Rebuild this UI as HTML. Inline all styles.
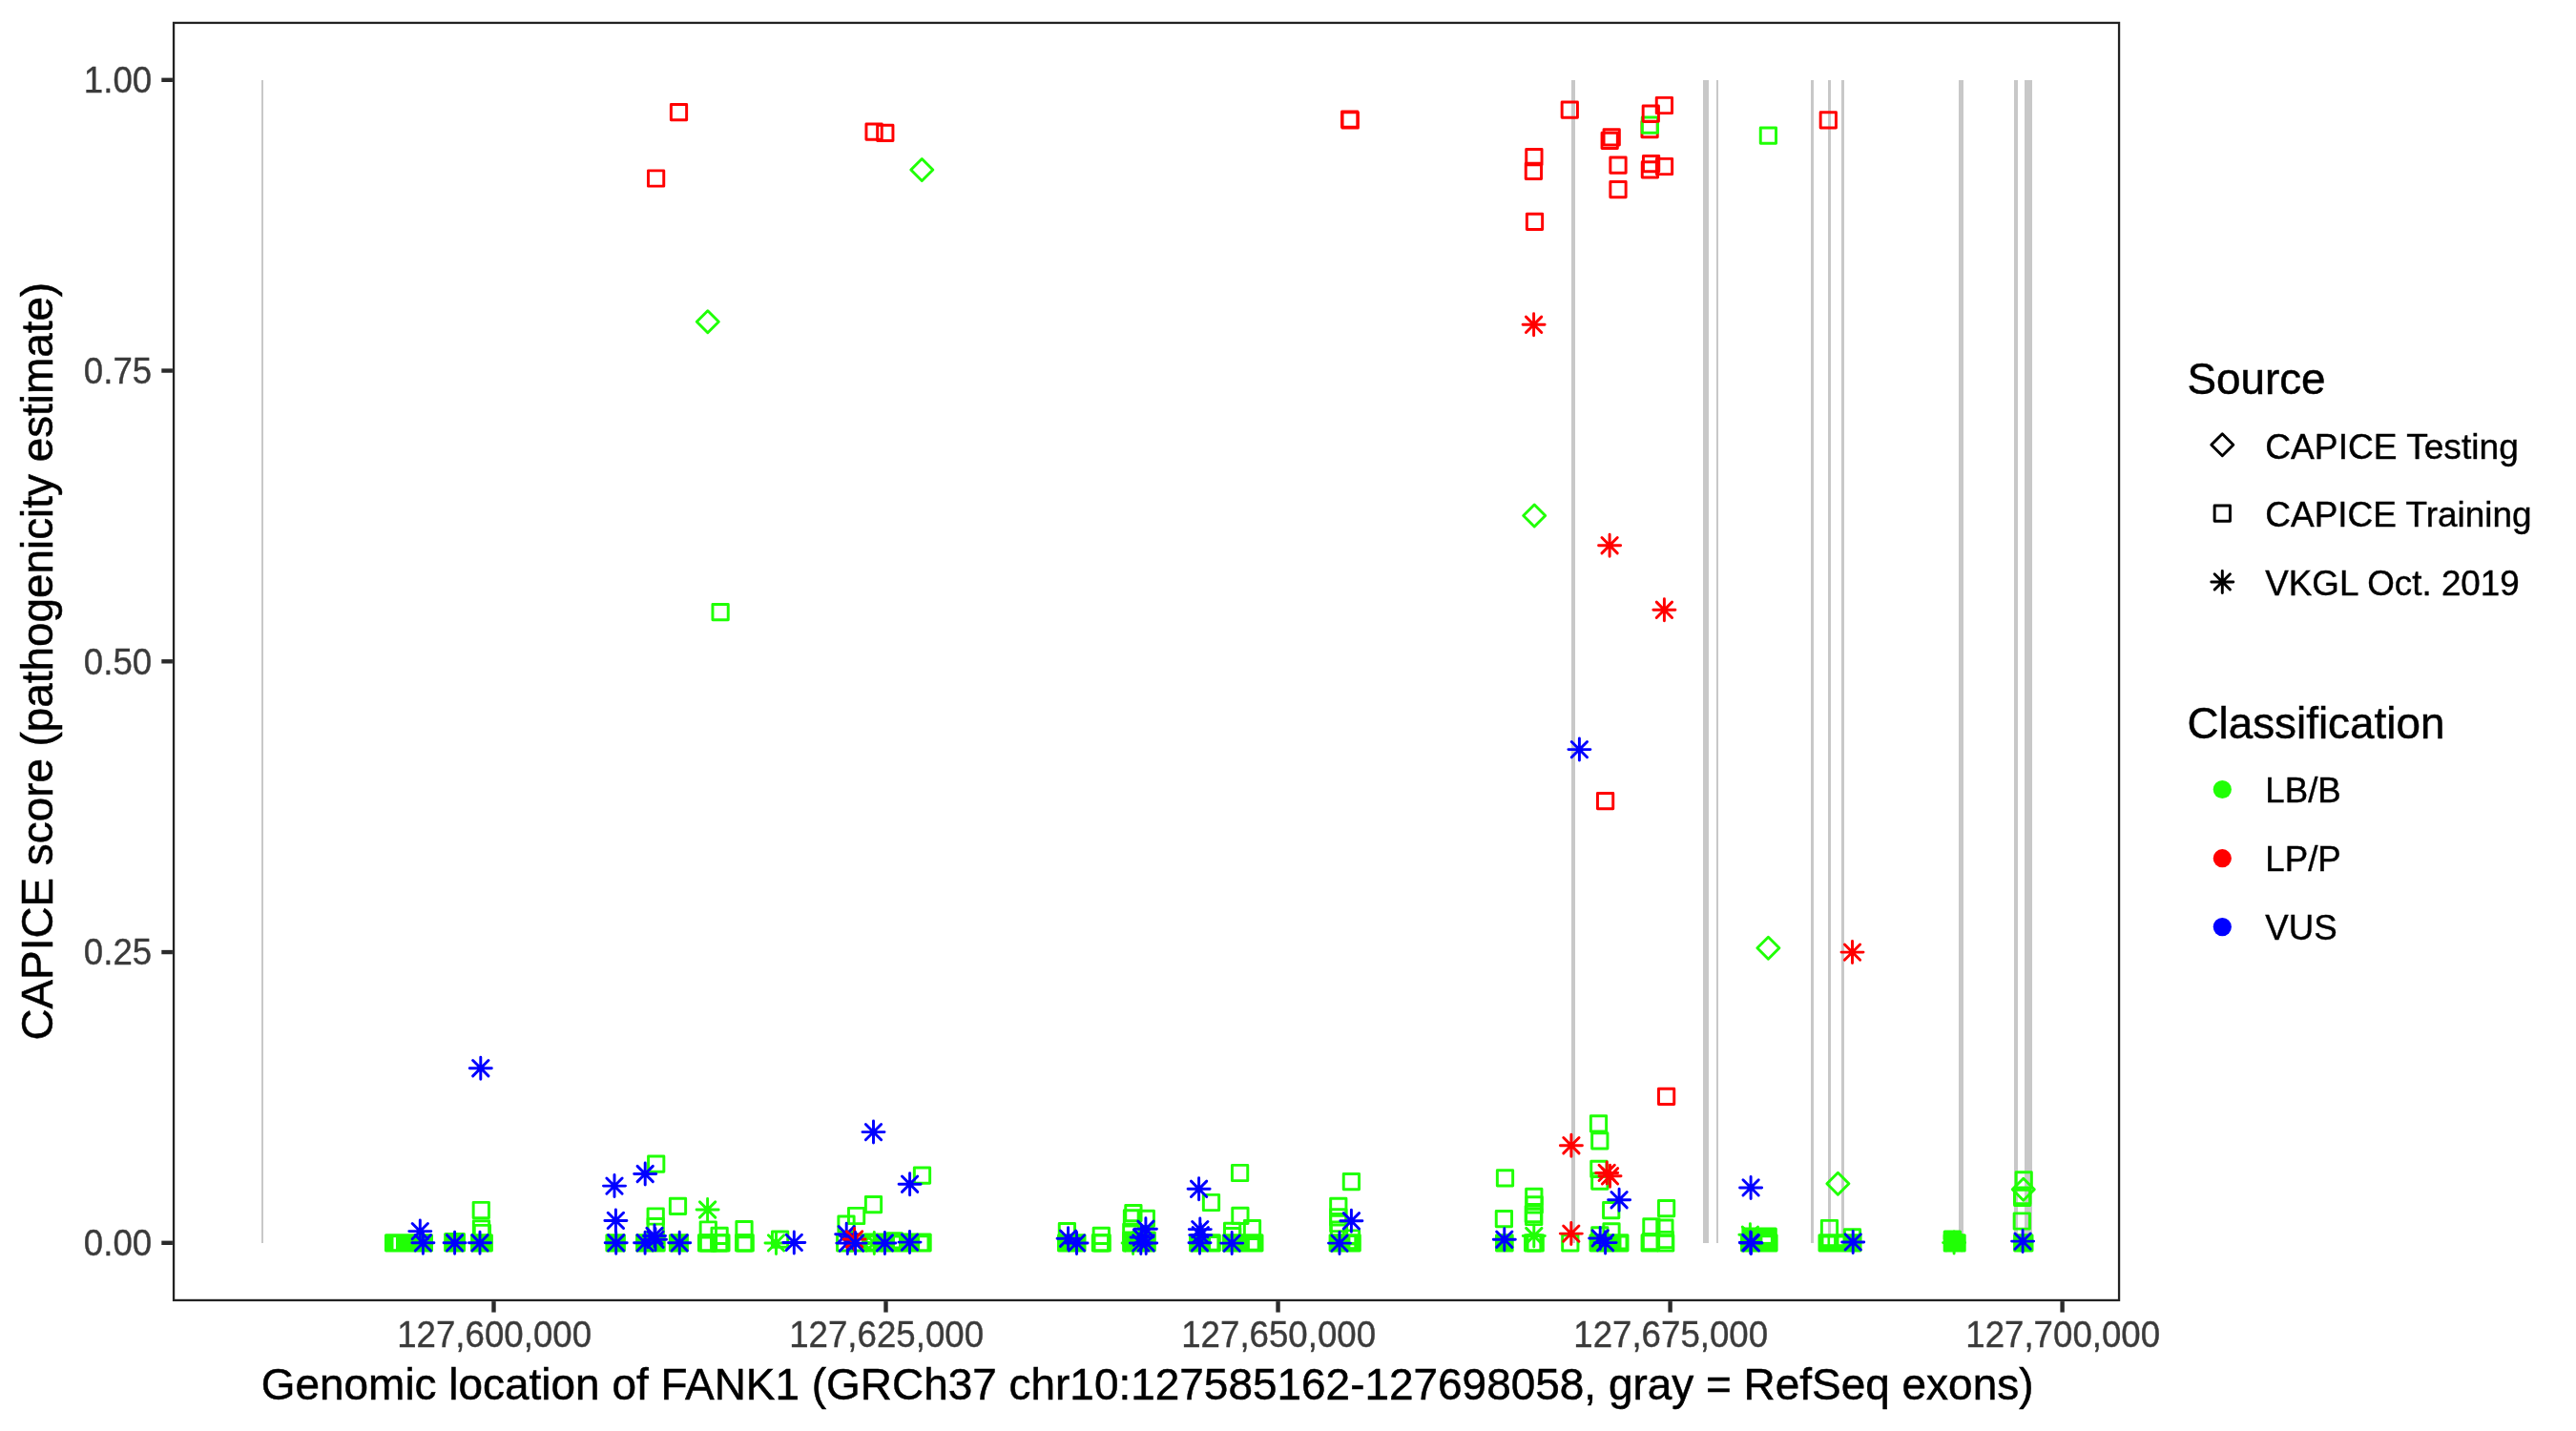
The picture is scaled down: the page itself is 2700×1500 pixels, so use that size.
<!DOCTYPE html>
<html><head><meta charset="utf-8"><title>FANK1 CAPICE scores</title>
<style>html,body{margin:0;padding:0;background:#fff}body{width:2700px;height:1500px;overflow:hidden;font-family:"Liberation Sans",sans-serif}svg{display:block;will-change:transform}</style></head>
<body>
<svg width="2700" height="1500" viewBox="0 0 2700 1500">
<rect width="2700" height="1500" fill="#fff"/>
<g fill="#c8c8c8">
<rect x="274" y="84" width="2" height="1219"/>
<rect x="1647" y="84" width="4" height="1219"/>
<rect x="1785" y="84" width="6" height="1219"/>
<rect x="1799" y="84" width="2" height="1219"/>
<rect x="1898" y="84" width="3" height="1219"/>
<rect x="1916" y="84" width="3" height="1219"/>
<rect x="1930" y="84" width="3" height="1219"/>
<rect x="2053" y="84" width="5" height="1219"/>
<rect x="2111" y="84" width="4" height="1219"/>
<rect x="2122" y="84" width="8" height="1219"/>
</g>
<g fill="none" stroke-width="2.95" stroke-linecap="round" stroke-linejoin="round">
<rect x="703.36" y="109.56" width="16.28" height="16.28" stroke="#ff0000"/>
<rect x="679.46" y="178.86" width="16.28" height="16.28" stroke="#ff0000"/>
<rect x="907.96" y="129.96" width="16.28" height="16.28" stroke="#ff0000"/>
<rect x="919.66" y="131.26" width="16.28" height="16.28" stroke="#ff0000"/>
<path d="M954.79 178.00L966.30 166.49L977.81 178.00L966.30 189.51Z" stroke="#20ff05"/>
<path d="M730.29 337.20L741.80 325.69L753.31 337.20L741.80 348.71Z" stroke="#20ff05"/>
<rect x="746.96" y="633.46" width="16.28" height="16.28" stroke="#20ff05"/>
<rect x="1406.56" y="117.06" width="16.28" height="16.28" stroke="#ff0000"/>
<rect x="1407.06" y="117.86" width="16.28" height="16.28" stroke="#ff0000"/>
<rect x="1637.16" y="106.96" width="16.28" height="16.28" stroke="#ff0000"/>
<rect x="1720.96" y="127.56" width="16.28" height="16.28" stroke="#ff0000"/>
<rect x="1721.26" y="122.96" width="16.28" height="16.28" stroke="#20ff05"/>
<rect x="1722.16" y="110.96" width="16.28" height="16.28" stroke="#ff0000"/>
<rect x="1736.26" y="102.36" width="16.28" height="16.28" stroke="#ff0000"/>
<rect x="1679.06" y="139.26" width="16.28" height="16.28" stroke="#ff0000"/>
<rect x="1681.06" y="135.66" width="16.28" height="16.28" stroke="#ff0000"/>
<rect x="1599.76" y="156.56" width="16.28" height="16.28" stroke="#ff0000"/>
<rect x="1599.26" y="171.26" width="16.28" height="16.28" stroke="#ff0000"/>
<rect x="1687.86" y="165.06" width="16.28" height="16.28" stroke="#ff0000"/>
<rect x="1721.26" y="169.76" width="16.28" height="16.28" stroke="#ff0000"/>
<rect x="1722.46" y="163.56" width="16.28" height="16.28" stroke="#ff0000"/>
<rect x="1736.36" y="166.36" width="16.28" height="16.28" stroke="#ff0000"/>
<rect x="1687.86" y="190.56" width="16.28" height="16.28" stroke="#ff0000"/>
<rect x="1600.36" y="224.16" width="16.28" height="16.28" stroke="#ff0000"/>
<rect x="1845.26" y="133.96" width="16.28" height="16.28" stroke="#20ff05"/>
<rect x="1908.16" y="117.76" width="16.28" height="16.28" stroke="#ff0000"/>
<path d="M1596.69 540.50L1608.20 528.99L1619.71 540.50L1608.20 552.01Z" stroke="#20ff05"/>
<rect x="1674.46" y="831.46" width="16.28" height="16.28" stroke="#ff0000"/>
<path d="M1841.89 993.80L1853.40 982.29L1864.91 993.80L1853.40 1005.31Z" stroke="#20ff05"/>
<rect x="1738.46" y="1141.26" width="16.28" height="16.28" stroke="#ff0000"/>
<rect x="403.00" y="1293.20" width="51.00" height="19.20" rx="1.6" fill="#20ff05" stroke="none"/>
<rect x="412.50" y="1297.10" width="2.50" height="12.10" fill="#fff" stroke="none"/>
<rect x="465.20" y="1291.90" width="22.80" height="20.50" rx="1.6" fill="#20ff05" stroke="none"/>
<rect x="496.16" y="1260.36" width="16.28" height="16.28" stroke="#20ff05"/>
<rect x="496.36" y="1279.66" width="16.28" height="16.28" stroke="#20ff05"/>
<rect x="497.26" y="1284.36" width="16.28" height="16.28" stroke="#20ff05"/>
<rect x="493.10" y="1293.20" width="23.80" height="19.20" rx="1.6" fill="#20ff05" stroke="none"/>
<rect x="679.56" y="1212.06" width="16.28" height="16.28" stroke="#20ff05"/>
<rect x="679.06" y="1266.86" width="16.28" height="16.28" stroke="#20ff05"/>
<rect x="679.06" y="1277.46" width="16.28" height="16.28" stroke="#20ff05"/>
<rect x="702.36" y="1256.16" width="16.28" height="16.28" stroke="#20ff05"/>
<rect x="634.40" y="1293.20" width="21.50" height="19.20" rx="1.6" fill="#20ff05" stroke="none"/>
<rect x="666.10" y="1293.20" width="31.60" height="19.20" rx="1.6" fill="#20ff05" stroke="none"/>
<rect x="700.90" y="1293.20" width="21.00" height="19.20" rx="1.6" fill="#20ff05" stroke="none"/>
<rect x="734.16" y="1280.86" width="16.28" height="16.28" stroke="#20ff05"/>
<rect x="745.96" y="1287.26" width="16.28" height="16.28" stroke="#20ff05"/>
<rect x="732.46" y="1294.66" width="16.28" height="16.28" stroke="#20ff05"/>
<rect x="734.36" y="1294.66" width="16.28" height="16.28" stroke="#20ff05"/>
<rect x="745.56" y="1294.66" width="16.28" height="16.28" stroke="#20ff05"/>
<rect x="747.76" y="1294.66" width="16.28" height="16.28" stroke="#20ff05"/>
<rect x="771.86" y="1280.46" width="16.28" height="16.28" stroke="#20ff05"/>
<rect x="771.56" y="1294.66" width="16.28" height="16.28" stroke="#20ff05"/>
<rect x="773.06" y="1294.66" width="16.28" height="16.28" stroke="#20ff05"/>
<rect x="809.46" y="1291.06" width="16.28" height="16.28" stroke="#20ff05"/>
<rect x="958.36" y="1223.96" width="16.28" height="16.28" stroke="#20ff05"/>
<rect x="907.36" y="1254.56" width="16.28" height="16.28" stroke="#20ff05"/>
<rect x="889.46" y="1266.36" width="16.28" height="16.28" stroke="#20ff05"/>
<rect x="878.86" y="1275.06" width="16.28" height="16.28" stroke="#20ff05"/>
<rect x="877.56" y="1294.66" width="16.28" height="16.28" stroke="#20ff05"/>
<rect x="888.36" y="1294.66" width="16.28" height="16.28" stroke="#20ff05"/>
<rect x="904.50" y="1292.60" width="72.20" height="19.80" rx="1.6" fill="#20ff05" stroke="none"/>
<rect x="928.50" y="1291.20" width="18.50" height="8.80" rx="1.6" fill="#20ff05" stroke="none"/>
<rect x="938.00" y="1297.50" width="4.00" height="9.00" fill="#fff" stroke="none"/>
<rect x="964.10" y="1297.20" width="7.40" height="12.10" fill="#fff" stroke="none"/>
<path d="M909.0 1300.8l5.6 -4.2l0 5.4zM909.2 1305.4l5.4 3.6l0 -5.2z" fill="#fff" stroke="none"/>
<rect x="1110.26" y="1282.46" width="16.28" height="16.28" stroke="#20ff05"/>
<rect x="1108.00" y="1293.20" width="30.50" height="19.20" rx="1.6" fill="#20ff05" stroke="none"/>
<rect x="1146.16" y="1287.16" width="16.28" height="16.28" stroke="#20ff05"/>
<rect x="1145.26" y="1294.66" width="16.28" height="16.28" stroke="#20ff05"/>
<rect x="1147.06" y="1294.66" width="16.28" height="16.28" stroke="#20ff05"/>
<rect x="1179.76" y="1263.46" width="16.28" height="16.28" stroke="#20ff05"/>
<rect x="1178.36" y="1268.76" width="16.28" height="16.28" stroke="#20ff05"/>
<rect x="1193.16" y="1269.26" width="16.28" height="16.28" stroke="#20ff05"/>
<rect x="1177.66" y="1283.26" width="16.28" height="16.28" stroke="#20ff05"/>
<rect x="1176.10" y="1290.50" width="35.70" height="21.90" rx="1.6" fill="#20ff05" stroke="none"/>
<rect x="1291.46" y="1221.36" width="16.28" height="16.28" stroke="#20ff05"/>
<rect x="1261.36" y="1252.36" width="16.28" height="16.28" stroke="#20ff05"/>
<rect x="1291.76" y="1266.26" width="16.28" height="16.28" stroke="#20ff05"/>
<rect x="1304.36" y="1279.56" width="16.28" height="16.28" stroke="#20ff05"/>
<rect x="1283.46" y="1282.16" width="16.28" height="16.28" stroke="#20ff05"/>
<rect x="1283.46" y="1287.56" width="16.28" height="16.28" stroke="#20ff05"/>
<rect x="1246.10" y="1293.20" width="33.70" height="19.20" rx="1.6" fill="#20ff05" stroke="none"/>
<rect x="1269.10" y="1298.00" width="6.30" height="10.70" fill="#fff" stroke="none"/>
<rect x="1280.80" y="1293.20" width="43.70" height="19.20" rx="1.6" fill="#20ff05" stroke="none"/>
<rect x="1309.90" y="1300.00" width="7.80" height="8.70" fill="#fff" stroke="none"/>
<rect x="1408.26" y="1230.56" width="16.28" height="16.28" stroke="#20ff05"/>
<rect x="1394.66" y="1256.26" width="16.28" height="16.28" stroke="#20ff05"/>
<rect x="1394.66" y="1267.66" width="16.28" height="16.28" stroke="#20ff05"/>
<rect x="1394.66" y="1274.36" width="16.28" height="16.28" stroke="#20ff05"/>
<rect x="1395.36" y="1280.86" width="16.28" height="16.28" stroke="#20ff05"/>
<rect x="1408.36" y="1289.86" width="16.28" height="16.28" stroke="#20ff05"/>
<rect x="1392.60" y="1293.20" width="34.20" height="19.20" rx="1.6" fill="#20ff05" stroke="none"/>
<rect x="1415.40" y="1297.00" width="3.90" height="4.90" fill="#fff" stroke="none"/>
<rect x="1415.40" y="1305.30" width="3.90" height="1.90" fill="#fff" stroke="none"/>
<rect x="1569.36" y="1226.66" width="16.28" height="16.28" stroke="#20ff05"/>
<rect x="1568.26" y="1269.46" width="16.28" height="16.28" stroke="#20ff05"/>
<rect x="1567.00" y="1293.20" width="19.70" height="19.20" rx="1.6" fill="#20ff05" stroke="none"/>
<rect x="1599.66" y="1246.26" width="16.28" height="16.28" stroke="#20ff05"/>
<rect x="1600.06" y="1254.66" width="16.28" height="16.28" stroke="#20ff05"/>
<rect x="1599.16" y="1264.36" width="16.28" height="16.28" stroke="#20ff05"/>
<rect x="1599.56" y="1267.36" width="16.28" height="16.28" stroke="#20ff05"/>
<rect x="1598.56" y="1294.66" width="16.28" height="16.28" stroke="#20ff05"/>
<rect x="1601.06" y="1294.66" width="16.28" height="16.28" stroke="#20ff05"/>
<rect x="1637.66" y="1294.76" width="16.28" height="16.28" stroke="#20ff05"/>
<rect x="1667.36" y="1169.66" width="16.28" height="16.28" stroke="#20ff05"/>
<rect x="1668.66" y="1187.76" width="16.28" height="16.28" stroke="#20ff05"/>
<rect x="1667.76" y="1217.26" width="16.28" height="16.28" stroke="#20ff05"/>
<rect x="1668.66" y="1229.96" width="16.28" height="16.28" stroke="#20ff05"/>
<rect x="1680.56" y="1260.56" width="16.28" height="16.28" stroke="#20ff05"/>
<rect x="1680.86" y="1282.66" width="16.28" height="16.28" stroke="#20ff05"/>
<rect x="1668.66" y="1286.66" width="16.28" height="16.28" stroke="#20ff05"/>
<rect x="1665.50" y="1293.20" width="42.00" height="19.20" rx="1.6" fill="#20ff05" stroke="none"/>
<rect x="1699.50" y="1297.50" width="4.00" height="10.00" fill="#fff" stroke="none"/>
<rect x="1722.76" y="1277.66" width="16.28" height="16.28" stroke="#20ff05"/>
<rect x="1738.46" y="1258.56" width="16.28" height="16.28" stroke="#20ff05"/>
<rect x="1736.76" y="1279.06" width="16.28" height="16.28" stroke="#20ff05"/>
<rect x="1721.06" y="1294.66" width="16.28" height="16.28" stroke="#20ff05"/>
<rect x="1722.36" y="1293.36" width="16.28" height="16.28" stroke="#20ff05"/>
<rect x="1737.56" y="1294.66" width="16.28" height="16.28" stroke="#20ff05"/>
<rect x="1737.06" y="1291.36" width="16.28" height="16.28" stroke="#20ff05"/>
<path d="M1914.89 1240.70L1926.40 1229.19L1937.91 1240.70L1926.40 1252.21Z" stroke="#20ff05"/>
<path d="M1826.26 1286.16L1842.54 1302.44M1826.26 1302.44L1842.54 1286.16M1822.89 1294.30L1845.91 1294.30M1834.40 1282.79L1834.40 1305.81" stroke="#20ff05"/>
<rect x="1824.00" y="1293.20" width="39.60" height="19.20" rx="1.6" fill="#20ff05" stroke="none"/>
<rect x="1825.40" y="1286.50" width="37.40" height="13.50" rx="1.6" fill="#20ff05" stroke="none"/>
<rect x="1847.40" y="1297.20" width="8.50" height="4.70" fill="#fff" stroke="none"/>
<rect x="1909.36" y="1279.36" width="16.28" height="16.28" stroke="#20ff05"/>
<rect x="1933.36" y="1288.66" width="16.28" height="16.28" stroke="#20ff05"/>
<rect x="1905.50" y="1293.20" width="46.00" height="19.20" rx="1.6" fill="#20ff05" stroke="none"/>
<rect x="1911.50" y="1297.50" width="4.00" height="6.70" fill="#fff" stroke="none"/>
<rect x="1918.10" y="1297.50" width="4.00" height="6.70" fill="#fff" stroke="none"/>
<rect x="1927.50" y="1297.50" width="4.00" height="6.70" fill="#fff" stroke="none"/>
<path d="M2039.96 1294.46L2056.24 1310.74M2039.96 1310.74L2056.24 1294.46M2036.59 1302.60L2059.61 1302.60M2048.10 1291.09L2048.10 1314.11" stroke="#20ff05"/>
<rect x="2036.70" y="1293.20" width="24.00" height="19.40" rx="1.6" fill="#20ff05" stroke="none"/>
<rect x="2036.70" y="1289.50" width="19.40" height="10.50" rx="1.6" fill="#20ff05" stroke="none"/>
<rect x="2113.06" y="1228.66" width="16.28" height="16.28" stroke="#20ff05"/>
<path d="M2109.29 1246.80L2120.80 1235.29L2132.31 1246.80L2120.80 1258.31Z" stroke="#20ff05"/>
<rect x="2111.56" y="1245.36" width="16.28" height="16.28" stroke="#20ff05"/>
<rect x="2111.56" y="1247.16" width="16.28" height="16.28" stroke="#20ff05"/>
<rect x="2111.16" y="1271.86" width="16.28" height="16.28" stroke="#20ff05"/>
<rect x="2110.10" y="1293.20" width="21.40" height="19.20" rx="1.6" fill="#20ff05" stroke="none"/>
<path d="M733.46 1259.86L749.74 1276.14M733.46 1276.14L749.74 1259.86M730.09 1268.00L753.11 1268.00M741.60 1256.49L741.60 1279.51" stroke="#20ff05"/>
<path d="M805.36 1294.76L821.64 1311.04M805.36 1311.04L821.64 1294.76M801.99 1302.90L825.01 1302.90M813.50 1291.39L813.50 1314.41" stroke="#20ff05"/>
<path d="M908.16 1294.76L924.44 1311.04M908.16 1311.04L924.44 1294.76M904.79 1302.90L927.81 1302.90M916.30 1291.39L916.30 1314.41" stroke="#20ff05"/>
<path d="M1179.46 1294.76L1195.74 1311.04M1179.46 1311.04L1195.74 1294.76M1176.09 1302.90L1199.11 1302.90M1187.60 1291.39L1187.60 1314.41" stroke="#20ff05"/>
<path d="M1599.66 1287.36L1615.94 1303.64M1599.66 1303.64L1615.94 1287.36M1596.29 1295.50L1619.31 1295.50M1607.80 1283.99L1607.80 1307.01" stroke="#20ff05"/>
<path d="M1599.46 332.16L1615.74 348.44M1599.46 348.44L1615.74 332.16M1596.09 340.30L1619.11 340.30M1607.60 328.79L1607.60 351.81" stroke="#ff0000"/>
<path d="M1678.96 563.56L1695.24 579.84M1678.96 579.84L1695.24 563.56M1675.59 571.70L1698.61 571.70M1687.10 560.19L1687.10 583.21" stroke="#ff0000"/>
<path d="M1736.26 631.16L1752.54 647.44M1736.26 647.44L1752.54 631.16M1732.89 639.30L1755.91 639.30M1744.40 627.79L1744.40 650.81" stroke="#ff0000"/>
<path d="M1933.36 989.96L1949.64 1006.24M1933.36 1006.24L1949.64 989.96M1929.99 998.10L1953.01 998.10M1941.50 986.59L1941.50 1009.61" stroke="#ff0000"/>
<path d="M1638.76 1192.56L1655.04 1208.84M1638.76 1208.84L1655.04 1192.56M1635.39 1200.70L1658.41 1200.70M1646.90 1189.19L1646.90 1212.21" stroke="#ff0000"/>
<path d="M1676.06 1221.26L1692.34 1237.54M1676.06 1237.54L1692.34 1221.26M1672.69 1229.40L1695.71 1229.40M1684.20 1217.89L1684.20 1240.91" stroke="#ff0000"/>
<path d="M1679.36 1224.66L1695.64 1240.94M1679.36 1240.94L1695.64 1224.66M1675.99 1232.80L1699.01 1232.80M1687.50 1221.29L1687.50 1244.31" stroke="#ff0000"/>
<path d="M1638.66 1284.96L1654.94 1301.24M1638.66 1301.24L1654.94 1284.96M1635.29 1293.10L1658.31 1293.10M1646.80 1281.59L1646.80 1304.61" stroke="#ff0000"/>
<path d="M1647.26 777.46L1663.54 793.74M1647.26 793.74L1663.54 777.46M1643.89 785.60L1666.91 785.60M1655.40 774.09L1655.40 797.11" stroke="#0000ff"/>
<path d="M495.66 1111.56L511.94 1127.84M495.66 1127.84L511.94 1111.56M492.29 1119.70L515.31 1119.70M503.80 1108.19L503.80 1131.21" stroke="#0000ff"/>
<path d="M432.16 1282.46L448.44 1298.74M432.16 1298.74L448.44 1282.46M428.79 1290.60L451.81 1290.60M440.30 1279.09L440.30 1302.11" stroke="#0000ff"/>
<path d="M435.26 1294.66L451.54 1310.94M435.26 1310.94L451.54 1294.66M431.89 1302.80L454.91 1302.80M443.40 1291.29L443.40 1314.31" stroke="#0000ff"/>
<path d="M468.46 1294.66L484.74 1310.94M468.46 1310.94L484.74 1294.66M465.09 1302.80L488.11 1302.80M476.60 1291.29L476.60 1314.31" stroke="#0000ff"/>
<path d="M494.86 1294.66L511.14 1310.94M494.86 1310.94L511.14 1294.66M491.49 1302.80L514.51 1302.80M503.00 1291.29L503.00 1314.31" stroke="#0000ff"/>
<path d="M635.86 1234.96L652.14 1251.24M635.86 1251.24L652.14 1234.96M632.49 1243.10L655.51 1243.10M644.00 1231.59L644.00 1254.61" stroke="#0000ff"/>
<path d="M668.06 1222.36L684.34 1238.64M668.06 1238.64L684.34 1222.36M664.69 1230.50L687.71 1230.50M676.20 1218.99L676.20 1242.01" stroke="#0000ff"/>
<path d="M637.26 1271.26L653.54 1287.54M637.26 1287.54L653.54 1271.26M633.89 1279.40L656.91 1279.40M645.40 1267.89L645.40 1290.91" stroke="#0000ff"/>
<path d="M677.86 1287.26L694.14 1303.54M677.86 1303.54L694.14 1287.26M674.49 1295.40L697.51 1295.40M686.00 1283.89L686.00 1306.91" stroke="#0000ff"/>
<path d="M678.86 1291.06L695.14 1307.34M678.86 1307.34L695.14 1291.06M675.49 1299.20L698.51 1299.20M687.00 1287.69L687.00 1310.71" stroke="#0000ff"/>
<path d="M637.56 1294.66L653.84 1310.94M637.56 1310.94L653.84 1294.66M634.19 1302.80L657.21 1302.80M645.70 1291.29L645.70 1314.31" stroke="#0000ff"/>
<path d="M667.96 1294.66L684.24 1310.94M667.96 1310.94L684.24 1294.66M664.59 1302.80L687.61 1302.80M676.10 1291.29L676.10 1314.31" stroke="#0000ff"/>
<path d="M704.06 1294.66L720.34 1310.94M704.06 1310.94L720.34 1294.66M700.69 1302.80L723.71 1302.80M712.20 1291.29L712.20 1314.31" stroke="#0000ff"/>
<path d="M824.16 1294.26L840.44 1310.54M824.16 1310.54L840.44 1294.26M820.79 1302.40L843.81 1302.40M832.30 1290.89L832.30 1313.91" stroke="#0000ff"/>
<path d="M907.36 1178.46L923.64 1194.74M907.36 1194.74L923.64 1178.46M903.99 1186.60L927.01 1186.60M915.50 1175.09L915.50 1198.11" stroke="#0000ff"/>
<path d="M945.46 1233.06L961.74 1249.34M945.46 1249.34L961.74 1233.06M942.09 1241.20L965.11 1241.20M953.60 1229.69L953.60 1252.71" stroke="#0000ff"/>
<path d="M879.06 1285.66L895.34 1301.94M879.06 1301.94L895.34 1285.66M875.69 1293.80L898.71 1293.80M887.20 1282.29L887.20 1305.31" stroke="#0000ff"/>
<path d="M880.16 1294.96L896.44 1311.24M880.16 1311.24L896.44 1294.96M876.79 1303.10L899.81 1303.10M888.30 1291.59L888.30 1314.61" stroke="#0000ff"/>
<path d="M887.46 1290.86L903.74 1307.14M887.46 1307.14L903.74 1290.86M884.09 1299.00L907.11 1299.00M895.60 1287.49L895.60 1310.51" stroke="#ff0000"/>
<path d="M888.46 1294.96L904.74 1311.24M888.46 1311.24L904.74 1294.96M885.09 1303.10L908.11 1303.10M896.60 1291.59L896.60 1314.61" stroke="#0000ff"/>
<path d="M919.26 1294.76L935.54 1311.04M919.26 1311.04L935.54 1294.76M915.89 1302.90L938.91 1302.90M927.40 1291.39L927.40 1314.41" stroke="#0000ff"/>
<path d="M945.36 1293.96L961.64 1310.24M945.36 1310.24L961.64 1293.96M941.99 1302.10L965.01 1302.10M953.50 1290.59L953.50 1313.61" stroke="#0000ff"/>
<path d="M1111.46 1290.06L1127.74 1306.34M1111.46 1306.34L1127.74 1290.06M1108.09 1298.20L1131.11 1298.20M1119.60 1286.69L1119.60 1309.71" stroke="#0000ff"/>
<path d="M1120.36 1294.76L1136.64 1311.04M1120.36 1311.04L1136.64 1294.76M1116.99 1302.90L1140.01 1302.90M1128.50 1291.39L1128.50 1314.41" stroke="#0000ff"/>
<path d="M1192.76 1280.16L1209.04 1296.44M1192.76 1296.44L1209.04 1280.16M1189.39 1288.30L1212.41 1288.30M1200.90 1276.79L1200.90 1299.81" stroke="#0000ff"/>
<path d="M1188.36 1288.86L1204.64 1305.14M1188.36 1305.14L1204.64 1288.86M1184.99 1297.00L1208.01 1297.00M1196.50 1285.49L1196.50 1308.51" stroke="#0000ff"/>
<path d="M1187.66 1294.76L1203.94 1311.04M1187.66 1311.04L1203.94 1294.76M1184.29 1302.90L1207.31 1302.90M1195.80 1291.39L1195.80 1314.41" stroke="#0000ff"/>
<path d="M1193.06 1294.76L1209.34 1311.04M1193.06 1311.04L1209.34 1294.76M1189.69 1302.90L1212.71 1302.90M1201.20 1291.39L1201.20 1314.41" stroke="#0000ff"/>
<path d="M1248.46 1238.16L1264.74 1254.44M1248.46 1254.44L1264.74 1238.16M1245.09 1246.30L1268.11 1246.30M1256.60 1234.79L1256.60 1257.81" stroke="#0000ff"/>
<path d="M1249.66 1280.46L1265.94 1296.74M1249.66 1296.74L1265.94 1280.46M1246.29 1288.60L1269.31 1288.60M1257.80 1277.09L1257.80 1300.11" stroke="#0000ff"/>
<path d="M1250.16 1286.46L1266.44 1302.74M1250.16 1302.74L1266.44 1286.46M1246.79 1294.60L1269.81 1294.60M1258.30 1283.09L1258.30 1306.11" stroke="#0000ff"/>
<path d="M1249.36 1294.56L1265.64 1310.84M1249.36 1310.84L1265.64 1294.56M1245.99 1302.70L1269.01 1302.70M1257.50 1291.19L1257.50 1314.21" stroke="#0000ff"/>
<path d="M1283.06 1294.96L1299.34 1311.24M1283.06 1311.24L1299.34 1294.96M1279.69 1303.10L1302.71 1303.10M1291.20 1291.59L1291.20 1314.61" stroke="#0000ff"/>
<path d="M1408.26 1271.66L1424.54 1287.94M1408.26 1287.94L1424.54 1271.66M1404.89 1279.80L1427.91 1279.80M1416.40 1268.29L1416.40 1291.31" stroke="#0000ff"/>
<path d="M1395.86 1294.96L1412.14 1311.24M1395.86 1311.24L1412.14 1294.96M1392.49 1303.10L1415.51 1303.10M1404.00 1291.59L1404.00 1314.61" stroke="#0000ff"/>
<path d="M1568.66 1291.06L1584.94 1307.34M1568.66 1307.34L1584.94 1291.06M1565.29 1299.20L1588.31 1299.20M1576.80 1287.69L1576.80 1310.71" stroke="#0000ff"/>
<path d="M1688.96 1249.56L1705.24 1265.84M1688.96 1265.84L1705.24 1249.56M1685.59 1257.70L1708.61 1257.70M1697.10 1246.19L1697.10 1269.21" stroke="#0000ff"/>
<path d="M1669.06 1289.76L1685.34 1306.04M1669.06 1306.04L1685.34 1289.76M1665.69 1297.90L1688.71 1297.90M1677.20 1286.39L1677.20 1309.41" stroke="#0000ff"/>
<path d="M1674.46 1294.46L1690.74 1310.74M1674.46 1310.74L1690.74 1294.46M1671.09 1302.60L1694.11 1302.60M1682.60 1291.09L1682.60 1314.11" stroke="#0000ff"/>
<path d="M1826.96 1236.76L1843.24 1253.04M1826.96 1253.04L1843.24 1236.76M1823.59 1244.90L1846.61 1244.90M1835.10 1233.39L1835.10 1256.41" stroke="#0000ff"/>
<path d="M1826.66 1294.26L1842.94 1310.54M1826.66 1310.54L1842.94 1294.26M1823.29 1302.40L1846.31 1302.40M1834.80 1290.89L1834.80 1313.91" stroke="#0000ff"/>
<path d="M1827.26 1294.76L1843.54 1311.04M1827.26 1311.04L1843.54 1294.76M1823.89 1302.90L1846.91 1302.90M1835.40 1291.39L1835.40 1314.41" stroke="#0000ff"/>
<path d="M1934.06 1293.76L1950.34 1310.04M1934.06 1310.04L1950.34 1293.76M1930.69 1301.90L1953.71 1301.90M1942.20 1290.39L1942.20 1313.41" stroke="#0000ff"/>
<path d="M2111.96 1292.96L2128.24 1309.24M2111.96 1309.24L2128.24 1292.96M2108.59 1301.10L2131.61 1301.10M2120.10 1289.59L2120.10 1312.61" stroke="#0000ff"/>
</g>
<rect x="182.05" y="23.95" width="2039.00" height="1339.00" fill="none" stroke="#222" stroke-width="2.3"/>
<g stroke="#2b2b2b" stroke-width="4.4">
<line x1="169.30" x2="180.90" y1="83.80" y2="83.80"/>
<line x1="169.30" x2="180.90" y1="388.55" y2="388.55"/>
<line x1="169.30" x2="180.90" y1="693.30" y2="693.30"/>
<line x1="169.30" x2="180.90" y1="998.05" y2="998.05"/>
<line x1="169.30" x2="180.90" y1="1302.80" y2="1302.80"/>
<line x1="517.50" x2="517.50" y1="1364.10" y2="1375.60"/>
<line x1="928.50" x2="928.50" y1="1364.10" y2="1375.60"/>
<line x1="1339.55" x2="1339.55" y1="1364.10" y2="1375.60"/>
<line x1="1750.60" x2="1750.60" y1="1364.10" y2="1375.60"/>
<line x1="2161.60" x2="2161.60" y1="1364.10" y2="1375.60"/>
</g>
<g font-family="Liberation Sans, sans-serif" font-size="36.67" fill="#3b3b3b" stroke="#3b3b3b" stroke-width="0.35">
<text transform="translate(159.2 97.00) scale(1 1.045)" text-anchor="end">1.00</text>
<text transform="translate(159.2 401.75) scale(1 1.045)" text-anchor="end">0.75</text>
<text transform="translate(159.2 706.50) scale(1 1.045)" text-anchor="end">0.50</text>
<text transform="translate(159.2 1011.25) scale(1 1.045)" text-anchor="end">0.25</text>
<text transform="translate(159.2 1316.00) scale(1 1.045)" text-anchor="end">0.00</text>
<text transform="translate(518.10 1412.0) scale(1 1.045)" text-anchor="middle">127,600,000</text>
<text transform="translate(929.10 1412.0) scale(1 1.045)" text-anchor="middle">127,625,000</text>
<text transform="translate(1340.15 1412.0) scale(1 1.045)" text-anchor="middle">127,650,000</text>
<text transform="translate(1751.20 1412.0) scale(1 1.045)" text-anchor="middle">127,675,000</text>
<text transform="translate(2162.20 1412.0) scale(1 1.045)" text-anchor="middle">127,700,000</text>
</g>
<g font-family="Liberation Sans, sans-serif" font-size="45.83" fill="#000" stroke="#000" stroke-width="0.5">
<text id="xt" x="1202.6" y="1466.9" text-anchor="middle" textLength="1857.7" lengthAdjust="spacingAndGlyphs">Genomic location of FANK1 (GRCh37 chr10:127585162-127698058, gray = RefSeq exons)</text>
<text id="yt" transform="translate(55.3 693.2) rotate(-90)" text-anchor="middle">CAPICE score (pathogenicity estimate)</text>
<text x="2292.4" y="412.8">Source</text>
<text x="2292.4" y="774.1">Classification</text>
</g>
<g font-family="Liberation Sans, sans-serif" font-size="36.67" fill="#000" stroke="#000" stroke-width="0.4">
<text x="2374.3" y="480.5" textLength="265.5" lengthAdjust="spacingAndGlyphs">CAPICE Testing</text>
<text x="2374.3" y="551.8" textLength="279.3" lengthAdjust="spacingAndGlyphs">CAPICE Training</text>
<text x="2374.3" y="623.7" textLength="266.4" lengthAdjust="spacingAndGlyphs">VKGL Oct. 2019</text>
<text x="2374.3" y="840.5">LB/B</text>
<text x="2374.3" y="912.9">LP/P</text>
<text x="2374.3" y="984.6">VUS</text>
</g>
<g fill="none" stroke-width="2.95" stroke-linecap="round" stroke-linejoin="round">
<path d="M2317.79 466.30L2329.30 454.79L2340.81 466.30L2329.30 477.81Z" stroke="#000"/>
<rect x="2321.16" y="530.06" width="16.28" height="16.28" stroke="#000"/>
<path d="M2321.16 601.76L2337.44 618.04M2321.16 618.04L2337.44 601.76M2317.79 609.90L2340.81 609.90M2329.30 598.39L2329.30 621.41" stroke="#000"/>
</g>
<circle cx="2329.3" cy="827.5" r="9.6" fill="#20ff05"/>
<circle cx="2329.3" cy="899.7" r="9.6" fill="#ff0000"/>
<circle cx="2329.3" cy="971.6" r="9.6" fill="#0000ff"/>
</svg>
</body></html>
